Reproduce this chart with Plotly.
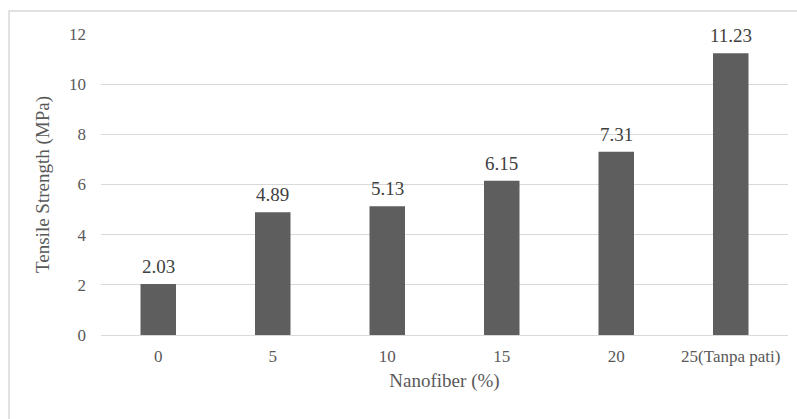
import plotly.graph_objects as go

categories = ["0", "5", "10", "15", "20", "25(Tanpa pati)"]
tensile_strength = [2.03, 4.89, 5.13, 6.15, 7.31, 11.23]
y_ticks = [0, 2, 4, 6, 8, 10, 12]

FONT = "Liberation Serif"
TEXT_COLOR = "#595959"
GRID = "#d9d9d9"

fig = go.Figure(
    go.Bar(
        x=categories,
        y=tensile_strength,
        marker=dict(color="#5e5e5e", line=dict(width=0)),
        cliponaxis=False,
    )
)

# value labels above each bar (category axis positions are serial indices)
for idx, val in enumerate(tensile_strength):
    fig.add_annotation(
        x=idx,
        y=val,
        text=f"{val:.2f}",
        showarrow=False,
        yanchor="bottom",
        yshift=5,
        font=dict(family=FONT, size=19, color="#404040"),
    )

fig.update_layout(
    width=797,
    height=419,
    margin=dict(l=101, r=9, t=34, b=84),
    paper_bgcolor="white",
    plot_bgcolor="white",
    bargap=0.69,
    showlegend=False,
    font=dict(family=FONT, size=17, color=TEXT_COLOR),
    xaxis=dict(
        type="category",
        title=dict(text="Nanofiber (%)", font=dict(family=FONT, size=19, color=TEXT_COLOR), standoff=8),
        showgrid=False,
        showline=True,
        linecolor=GRID,
        linewidth=1,
        ticks="",
        tickangle=0,
        ticklabelstandoff=6,
        tickfont=dict(family=FONT, size=17, color=TEXT_COLOR),
    ),
    yaxis=dict(
        title=dict(text="Tensile Strength (MPa)", font=dict(family=FONT, size=19, color=TEXT_COLOR), standoff=14),
        range=[0, 12],
        tickvals=y_ticks,
        showgrid=True,
        gridcolor=GRID,
        gridwidth=1,
        zeroline=False,
        showline=False,
        ticks="",
        ticklabelstandoff=14,
        tickfont=dict(family=FONT, size=17, color=TEXT_COLOR),
    ),
    shapes=[
        dict(
            type="rect",
            xref="paper",
            yref="paper",
            x0=(9 - 101) / 687,
            x1=1.05,
            y0=-0.5,
            y1=1 + 23 / 301,
            line=dict(color="#d9d9d9", width=1.5),
            fillcolor="rgba(0,0,0,0)",
            layer="below",
        )
    ],
)

fig.write_html("out.html")
